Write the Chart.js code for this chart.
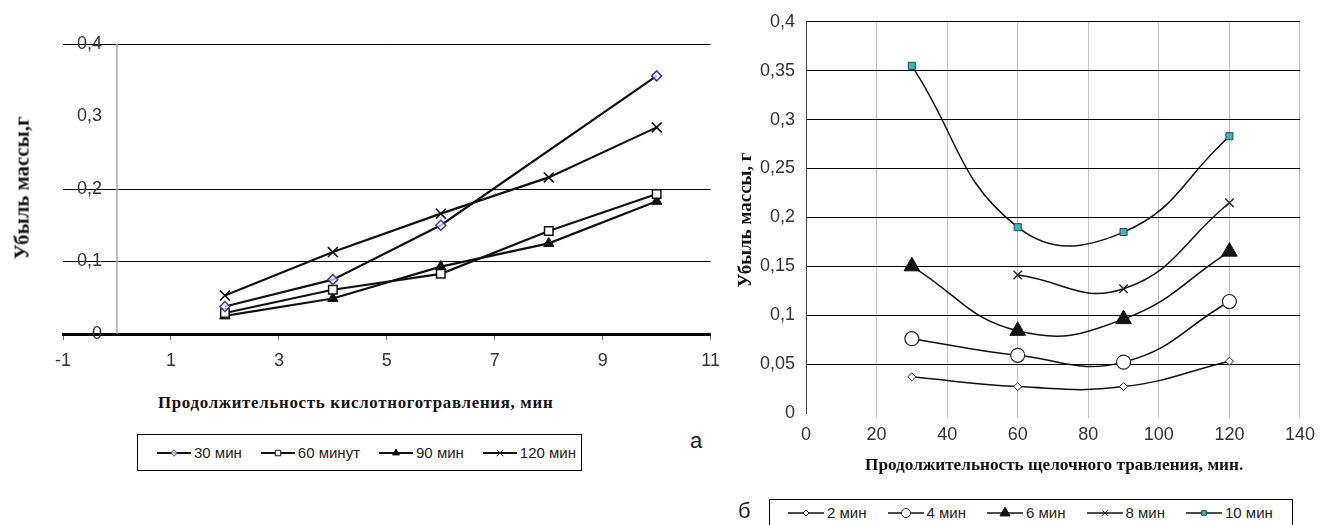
<!DOCTYPE html>
<html lang="ru">
<head>
<meta charset="utf-8">
<title>Убыль массы</title>
<script src="https://cdn.jsdelivr.net/npm/chart.js@4.4.1/dist/chart.umd.min.js"></script>
<style>
body { margin: 0; width: 1321px; height: 525px; overflow: hidden; background: #fff; position: relative;
       font-family: "Liberation Sans", Arial, sans-serif; color: #222; }
canvas { position: absolute; }
.title { position: absolute; white-space: nowrap; font-family: "Liberation Serif", "Times New Roman", serif;
         font-weight: bold; color: #111; line-height: 1; }
.legend { position: absolute; border: 1px solid #000; box-sizing: border-box; display: flex; align-items: center;
          font-size: 15px; color: #222; white-space: nowrap; overflow: hidden; }
.legend .item { display: flex; align-items: center; flex-shrink: 0; }
.legend canvas { position: static; flex-shrink: 0; }
.mark { position: absolute; font-size: 22px; line-height: 1; color: #222; }
</style>
</head>
<body>
<canvas id="acid" width="730" height="385" style="left:0;top:0"></canvas>
<canvas id="alkali" width="601" height="460" style="left:720px;top:0"></canvas>

<div class="title" id="acidX"></div>
<div class="title" id="acidY"></div>
<div class="title" id="alkX"></div>
<div class="title" id="alkY"></div>

<div class="legend" id="acidLegend" style="left:137px;top:434px;width:445px;height:37px;padding-left:19px"></div>
<div class="legend" id="alkLegend" style="left:769px;top:499px;width:524px;height:27px;padding-left:18px"></div>
<div class="mark" style="left:690px;top:430px">а</div>
<div class="mark" style="left:738px;top:500px">б</div>

<script>
// chart "а": acid etching
var acidX = [2, 4, 6, 8, 10];
var acidNames = ['30 мин', '60 минут', '90 мин', '120 мин'];
var acid30 = [0.038, 0.075, 0.15, null, 0.356];
var acid60 = [0.029, 0.061, 0.083, 0.142, 0.193];
var acid90 = [0.025, 0.049, 0.093, 0.125, 0.183];
var acid120 = [0.053, 0.113, 0.166, 0.216, 0.285];
var acidTicksX = [-1, 1, 3, 5, 7, 9, 11];
var acidTicksY = [0, 0.1, 0.2, 0.3, 0.4];

// chart "б": alkaline etching
var alkX = [30, 60, 90, 120];
var alkNames = ['2 мин', '4 мин', '6 мин', '8 мин', '10 мин'];
var alk2 = [0.037, 0.027, 0.027, 0.053];
var alk4 = [0.076, 0.059, 0.052, 0.114];
var alk6 = [0.150, 0.084, 0.096, 0.165];
var alk8 = [null, 0.141, 0.127, 0.215];
var alk10 = [0.355, 0.190, 0.185, 0.283];
var alkTicksX = [0, 20, 40, 60, 80, 100, 120, 140];
var alkTicksY = [0, 0.05, 0.1, 0.15, 0.2, 0.25, 0.3, 0.35, 0.4];

var sans = '"Liberation Sans", Arial, sans-serif';

function fmt(v) { // 0.35 -> "0,35"
    return String(Math.round(v * 1000) / 1000).replace('.', ',');
}

function pts(xs, ys) { // pair x and y, drop missing points
    return xs.map(function (x, i) { return { x: x, y: ys[i] }; })
        .filter(function (p) { return p.y !== null; });
}

function setTicks(list) {
    return function (scale) {
        scale.ticks = list.map(function (v) { return { value: v }; });
    };
}

function near(a, b) { return Math.abs(a - b) < 1e-6; }

// marker styles: [pointStyle, radius, fill, border, borderWidth]
var acidMarks = [
    ['rectRot', 5, 'rgba(255,255,255,0.7)', '#3b3ba0', 1.5],
    ['rect', 6, '#fff', '#111', 1.5],
    ['triangle', 6, '#111', '#111', 1],
    ['crossRot', 7, '#111', '#111', 1.6]
];
var alkMarks = [
    ['rectRot', 4, '#fff', '#222', 1],
    ['circle', 7, '#fff', '#222', 1.2],
    ['triangle', 9, '#111', '#111', 1],
    ['crossRot', 6, '#222', '#222', 1.4],
    ['rect', 5, '#43b5b8', '#1d4a50', 1]
];

function makeSets(names, series, xs, marks, width, tension) {
    var sets = [];
    for (var i = 0; i < names.length; i++) {
        var m = marks[i];
        sets.push({
            label: names[i],
            data: pts(xs, series[i]),
            borderColor: '#111',
            borderWidth: width,
            tension: tension,
            pointStyle: m[0],
            pointRadius: m[1],
            pointBackgroundColor: m[2],
            pointBorderColor: m[3],
            pointBorderWidth: m[4]
        });
    }
    return sets;
}

var acidAxisPlugin = { // y axis of chart "а" crosses at x = 0
    id: 'acidAxis',
    beforeDatasetsDraw: function (chart) {
        var ctx = chart.ctx;
        var x = chart.scales.x;
        var y = chart.scales.y;
        var x0 = x.getPixelForValue(0);
        ctx.save();
        ctx.strokeStyle = '#a9a9a9';
        ctx.lineWidth = 1.5;
        ctx.beginPath();
        ctx.moveTo(x0, chart.chartArea.top);
        ctx.lineTo(x0, chart.chartArea.bottom);
        ctx.stroke();
        ctx.fillStyle = '#333';
        ctx.font = '18px ' + sans;
        ctx.textAlign = 'right';
        ctx.textBaseline = 'middle';
        y.ticks.forEach(function (t) {
            ctx.fillText(fmt(t.value), x0 - 15, y.getPixelForValue(t.value));
        });
        ctx.restore();
    }
};

new Chart(document.getElementById('acid'), {
    type: 'line',
    data: { datasets: makeSets(acidNames, [acid30, acid60, acid90, acid120], acidX, acidMarks, 2.2, 0) },
    options: {
        responsive: false,
        animation: false,
        events: [],
        layout: { padding: { left: 63, right: 17, top: 44, bottom: 0 } },
        plugins: { legend: { display: false }, tooltip: { enabled: false } },
        scales: {
            x: {
                type: 'linear', min: -1, max: 11,
                afterBuildTicks: setTicks(acidTicksX),
                afterFit: function (s) { s.height = 51; },
                grid: { drawOnChartArea: false, drawTicks: true, tickLength: 6, color: '#777' },
                border: { display: true, color: '#000', width: 3 },
                ticks: { color: '#333', padding: 10, font: { size: 18, family: sans }, callback: fmt }
            },
            y: {
                type: 'linear', min: 0, max: 0.4,
                afterBuildTicks: setTicks(acidTicksY),
                afterFit: function (s) { s.width = 0; },
                ticks: { display: false },
                grid: {
                    drawTicks: false,
                    color: function (c) {
                        var v = c.tick ? c.tick.value : -1;
                        return (near(v, 0.3) || near(v, 0)) ? 'rgba(0,0,0,0)' : '#000';
                    }
                },
                border: { display: false }
            }
        }
    },
    plugins: [acidAxisPlugin]
});

new Chart(document.getElementById('alkali'), {
    type: 'line',
    data: { datasets: makeSets(alkNames, [alk2, alk4, alk6, alk8, alk10], alkX, alkMarks, 1.5, 0.45) },
    options: {
        responsive: false,
        animation: false,
        events: [],
        layout: { padding: { left: 0, right: 16, top: 18, bottom: 0 } },
        plugins: { legend: { display: false }, tooltip: { enabled: false } },
        scales: {
            x: {
                type: 'linear', min: 0, max: 140,
                afterBuildTicks: setTicks(alkTicksX),
                afterFit: function (s) { s.height = 47; },
                grid: {
                    tickLength: 5,
                    color: function (c) {
                        var v = c.tick ? c.tick.value : -1;
                        return near(v, 0) ? 'rgba(0,0,0,0)' : '#c9bfbf';
                    }
                },
                border: { display: false },
                ticks: { color: '#333', padding: 6, font: { size: 18, family: sans }, callback: fmt }
            },
            y: {
                type: 'linear', min: 0, max: 0.4,
                afterBuildTicks: setTicks(alkTicksY),
                afterFit: function (s) { s.width = 86; },
                grid: {
                    drawTicks: false,
                    color: function (c) {
                        var v = c.tick ? c.tick.value : -1;
                        return near(v, 0) ? 'rgba(0,0,0,0)' : '#000';
                    }
                },
                border: { display: true, color: '#444', width: 1 },
                ticks: { color: '#333', padding: 11, font: { size: 18, family: sans }, callback: fmt }
            }
        }
    }
});

// legends: line with marker, then the label
function buildLegend(id, names, marks, lineW, iconW, gap) {
    var box = document.getElementById(id);
    for (var i = 0; i < names.length; i++) {
        var m = marks[i];
        var item = document.createElement('span');
        item.className = 'item';
        item.style.marginRight = gap + 'px';
        var c = document.createElement('canvas');
        c.width = iconW;
        c.height = 16;
        var ctx = c.getContext('2d');
        ctx.strokeStyle = '#111';
        ctx.lineWidth = lineW;
        ctx.beginPath();
        ctx.moveTo(0, 8);
        ctx.lineTo(iconW, 8);
        ctx.stroke();
        ctx.fillStyle = m[2];
        ctx.strokeStyle = m[3];
        ctx.lineWidth = 1;
        Chart.helpers.drawPoint(ctx, { pointStyle: m[0], radius: Math.max(3, m[1] * 0.65), rotation: 0, borderWidth: 1 }, iconW / 2, 8);
        item.appendChild(c);
        var t = document.createElement('span');
        t.textContent = names[i];
        t.style.marginLeft = '3px';
        item.appendChild(t);
        box.appendChild(item);
    }
}
buildLegend('acidLegend', acidNames, acidMarks, 2, 34, 19);
buildLegend('alkLegend', alkNames, alkMarks, 1.5, 36, 21);

// axis titles: font size from a measured part of the text, spacing stretches to the full width
var measure = document.createElement('canvas').getContext('2d');
function textWidth(text, size) {
    measure.font = 'bold ' + size + 'px "Liberation Serif", "Times New Roman", serif';
    return measure.measureText(text).width;
}
function placeTitle(id, text, part, partWidth, fullWidth, x, y, rotate) {
    var el = document.getElementById(id);
    var size = 100 * partWidth / textWidth(part, 100);
    el.textContent = text;
    el.style.fontSize = size.toFixed(2) + 'px';
    if (fullWidth) {
        el.style.letterSpacing = ((fullWidth - textWidth(text, size)) / text.length).toFixed(2) + 'px';
    }
    el.style.left = x + 'px';
    el.style.top = y + 'px';
    el.style.transform = rotate ? 'translate(-50%,-50%) rotate(-90deg)' : 'translateY(-50%)';
}
placeTitle('acidX', 'Продолжительность кислотноготравления, мин', 'Продолжительность кислотноготра', 272, 395, 158, 403, false);
placeTitle('alkX', 'Продолжительность щелочного травления, мин.', 'Продолжительность щел', 195, 0, 865, 465, false);
placeTitle('acidY', 'Убыль массы,г', 'Убыль массы,г', 143, 0, 22, 188, true);
placeTitle('alkY', 'Убыль массы, г', 'Убыль массы, г', 135, 0, 744, 220, true);
</script>
</body>
</html>
